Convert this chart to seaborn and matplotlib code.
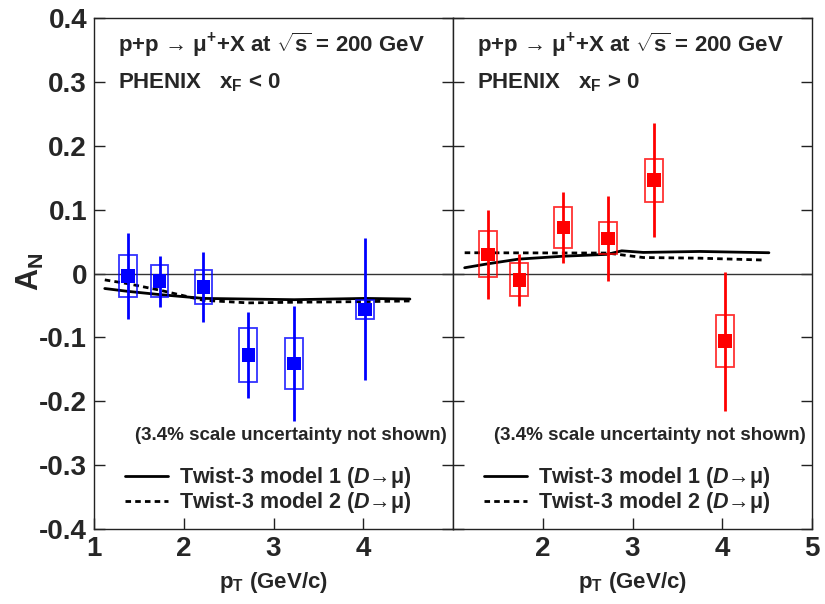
import numpy as np
import pandas as pd
import matplotlib
matplotlib.use("Agg")
import matplotlib.pyplot as plt
from matplotlib.patches import Rectangle
from matplotlib.lines import Line2D
import seaborn as sns

sns.set_theme(style="white")
plt.rcParams['font.family'] = ['Liberation Sans', 'DejaVu Sans']
plt.rcParams['mathtext.fontset'] = 'custom'
plt.rcParams['mathtext.rm'] = 'Liberation Sans:bold'
plt.rcParams['mathtext.bf'] = 'Liberation Sans:bold'
plt.rcParams['mathtext.it'] = 'Liberation Sans:bold:italic'
plt.rcParams['mathtext.sf'] = 'Liberation Sans:bold'

# ---------------- data ----------------
pt_left = [1.38, 1.73, 2.22, 2.72, 3.23, 4.02]
an_left = [-0.004, -0.012, -0.021, -0.128, -0.141, -0.056]
stat_left = [0.067, 0.040, 0.055, 0.067, 0.090, 0.111]
sys_left = [0.033, 0.025, 0.026, 0.042, 0.040, 0.015]

pt_right = [1.39, 1.74, 2.23, 2.73, 3.24, 4.03]
an_right = [0.030, -0.010, 0.072, 0.055, 0.146, -0.106]
stat_right = [0.070, 0.041, 0.056, 0.066, 0.089, 0.109]
sys_right = [0.036, 0.026, 0.032, 0.025, 0.034, 0.041]

m1_pt_left = [1.12, 1.38, 1.73, 2.22, 2.72, 3.23, 4.02, 4.52]
m1_left = [-0.0235, -0.028, -0.033, -0.039, -0.040, -0.041, -0.039, -0.040]
m2_pt_left = [1.12, 1.38, 1.73, 2.22, 2.72, 3.23, 4.02, 4.52]
m2_left = [-0.010, -0.016, -0.026, -0.042, -0.046, -0.045, -0.044, -0.043]

m1_pt_right = [1.13, 1.38, 1.73, 2.22, 2.72, 2.88, 3.12, 3.75, 4.52]
m1_right = [0.009, 0.015, 0.0225, 0.027, 0.030, 0.0355, 0.033, 0.0345, 0.0325]
m2_pt_right = [1.13, 2.72, 3.12, 3.75, 4.48]
m2_right = [0.0325, 0.032, 0.025, 0.024, 0.021]

box_halfwidth = 0.1
yticks = [-0.4, -0.3, -0.2, -0.1, 0, 0.1, 0.2, 0.3, 0.4]
ytick_labels = ['-0.4', '-0.3', '-0.2', '-0.1', '0', '0.1', '0.2', '0.3', '0.4']
left_xticks = [1, 2, 3, 4]
right_xticks = [2, 3, 4, 5]

title_line1 = r"p+p → $\mathregular{\mu^{+}}$+X at $\mathregular{\sqrt{s}}$ = 200 GeV"
title_left = r"PHENIX   $\mathregular{x_{F}}$ < 0"
title_right = r"PHENIX   $\mathregular{x_{F}}$ > 0"
legend_labels = [r"Twist-3 model 1 ($D$→μ)",
                 r"Twist-3 model 2 ($D$→μ)"]
note = "(3.4% scale uncertainty not shown)"

W, H = 825, 604
fig = plt.figure(figsize=(W / 100, H / 100), dpi=100)
ax_l = fig.add_axes([94 / W, 1 - 529 / H, 359 / W, 511 / H])
ax_r = fig.add_axes([453 / W, 1 - 529 / H, 359 / W, 511 / H])


def draw_panel(ax, pt, an, stat, sys_, color, m1x, m1y, m2x, m2y, xticks, sub):
    ax.axhline(0, color='#333333', lw=1.0, zorder=1)
    dfm1 = pd.DataFrame({'pt': m1x, 'an': m1y})
    dfm2 = pd.DataFrame({'pt': m2x, 'an': m2y})
    sns.lineplot(data=dfm1, x='pt', y='an', ax=ax, color='black', lw=2.0,
                 estimator=None, sort=False, zorder=2)
    sns.lineplot(data=dfm2, x='pt', y='an', ax=ax, color='black', lw=2.0,
                 estimator=None, sort=False, zorder=2, linestyle=(0, (2.0, 1.5)))
    for x, y, s in zip(pt, an, sys_):
        ax.add_patch(Rectangle((x - box_halfwidth, y - s), 2 * box_halfwidth, 2 * s,
                               fill=False, edgecolor=color, lw=1.3, alpha=0.8, zorder=3))
    ax.vlines(pt, np.array(an) - np.array(stat), np.array(an) + np.array(stat),
              color=color, lw=2.0, zorder=4)
    dfp = pd.DataFrame({'pt': pt, 'an': an})
    sns.scatterplot(data=dfp, x='pt', y='an', ax=ax, marker='s', s=95,
                    color=color, edgecolor='none', zorder=5)
    ax.set_xlim(1, 5)
    ax.set_ylim(-0.4, 0.4)
    ax.set_yticks(yticks)
    ax.set_xticks(xticks)
    ax.tick_params(axis='both', direction='in', length=8, width=1.0, color='#222222',
                   labelsize=20, pad=5)
    ax.tick_params(axis='y', left=True, right=True)
    ax.tick_params(axis='x', bottom=True, top=False)
    for sp in ax.spines.values():
        sp.set_color('#222222')
        sp.set_linewidth(1.0)
    ax.set_xlabel(r"$\mathregular{p_{T}}$ (GeV/c)", fontsize=16, fontweight='bold', labelpad=6)
    ax.set_ylabel('')
    ax.text(0.066, 0.948, title_line1, transform=ax.transAxes,
            fontsize=16, fontweight='bold', va='center', ha='left')
    ax.text(0.066, 0.873, title_left if sub == 'l' else title_right, transform=ax.transAxes,
            fontsize=16, fontweight='bold', va='center', ha='left')
    ax.text(0.983, 0.183, note, transform=ax.transAxes, fontsize=13.5, fontweight='bold',
            ha='right', va='center')
    handles = [Line2D([], [], color='black', lw=2.0),
               Line2D([], [], color='black', lw=2.0, linestyle=(0, (2.0, 1.5)))]
    leg = ax.legend(handles, legend_labels, loc='lower left', bbox_to_anchor=(0.085, 0.027),
                    frameon=False, fontsize=15.5, handlelength=2.0, handletextpad=0.55,
                    labelspacing=0.0, borderpad=0, borderaxespad=0)
    for t in leg.get_texts():
        t.set_fontweight('bold')


draw_panel(ax_l, pt_left, an_left, stat_left, sys_left, '#0000ff',
           m1_pt_left, m1_left, m2_pt_left, m2_left, left_xticks, 'l')
draw_panel(ax_r, pt_right, an_right, stat_right, sys_right, '#ff0000',
           m1_pt_right, m1_right, m2_pt_right, m2_right, right_xticks, 'r')

ax_l.set_yticklabels(ytick_labels)
ax_r.set_yticklabels([])
ax_l.set_xticklabels([str(v) for v in left_xticks])
ax_r.set_xticklabels([str(v) for v in right_xticks])
for lab in ax_l.get_yticklabels() + ax_l.get_xticklabels() + ax_r.get_xticklabels():
    lab.set_fontweight('bold')

fig.text(30 / W, 1 - 272 / H, r"$\mathregular{A_{N}}$", rotation=90, fontsize=22,
         fontweight='bold', ha='center', va='center')

fig.savefig('out.png', dpi=100)
